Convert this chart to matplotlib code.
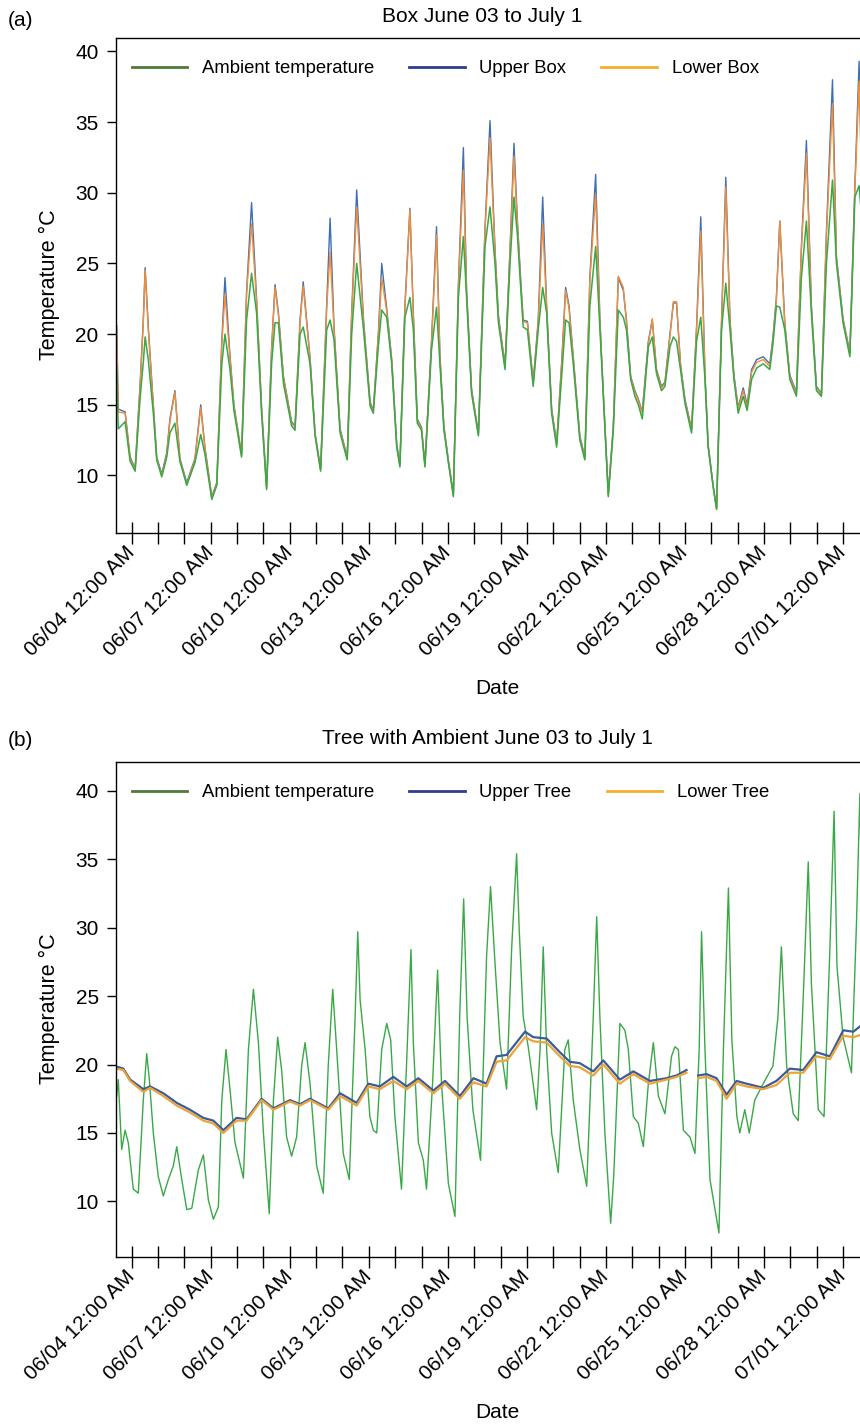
import numpy as np
import pandas as pd
import matplotlib
matplotlib.use('Agg')
import matplotlib.pyplot as plt
from matplotlib.lines import Line2D
import matplotlib.dates as mdates

plt.rcParams['font.family'] = ['Liberation Sans', 'DejaVu Sans']
plt.rcParams['font.size'] = 13

# days after 06/04 12:00 AM
box_days = [-0.57, -0.51, -0.25, -0.06, 0.13, 0.32, 0.44, 0.51, 0.63, 0.82,
            0.95, 1.14, 1.33, 1.45, 1.64, 1.83, 2.09, 2.40, 2.62, 2.78,
            3.04, 3.23, 3.42, 3.54, 3.73, 3.88, 4.17, 4.36, 4.55, 4.74,
            4.93, 5.12, 5.31, 5.44, 5.57, 5.76, 6.07, 6.20, 6.39, 6.51,
            6.77, 6.96, 7.17, 7.40, 7.53, 7.68, 7.91, 8.18, 8.35, 8.54,
            8.80, 9.05, 9.17, 9.36, 9.49, 9.68, 9.87, 10.06, 10.18, 10.37,
            10.56, 10.69, 10.84, 11.00, 11.13, 11.38, 11.57, 11.70, 11.85, 12.02,
            12.21, 12.40, 12.59, 12.71, 12.90, 13.16, 13.41, 13.60, 13.79, 13.92,
            14.17, 14.36, 14.51, 14.64, 14.76, 14.86, 15.02, 15.24, 15.43, 15.60,
            15.75, 15.94, 16.13, 16.32, 16.47, 16.60, 16.76, 17.01, 17.20, 17.39,
            17.61, 17.77, 17.84, 18.09, 18.28, 18.47, 18.66, 18.78, 18.94, 19.10,
            19.23, 19.38, 19.61, 19.76, 19.92, 20.11, 20.24, 20.43, 20.56, 20.68,
            20.83, 21.00, 21.25, 21.44, 21.60, 21.76, 21.88, 22.07, 22.20, 22.39,
            22.55, 22.71, 22.86, 23.02, 23.21, 23.36, 23.53, 23.72, 23.97, 24.22,
            24.34, 24.47, 24.60, 24.79, 24.98, 25.23, 25.42, 25.61, 25.80, 25.99,
            26.18, 26.37, 26.60, 26.75, 27.00, 27.26, 27.45, 27.61, 27.72]

box_ambient = [17.8, 13.3, 13.8, 11.0, 10.3, 15.5, 18.0, 19.8, 18.2, 14.4,
               11.1, 9.9, 11.3, 13.0, 13.7, 11.0, 9.3, 10.9, 12.9, 11.5,
               8.3, 9.3, 17.9, 20.0, 17.5, 14.6, 11.3, 21.0, 24.3, 21.5,
               14.4, 9.0, 17.9, 20.8, 20.8, 16.5, 13.5, 13.2, 20.0, 20.5,
               17.9, 12.8, 10.3, 20.3, 21.0, 19.6, 13.0, 11.1, 20.0, 25.0,
               20.3, 14.9, 14.4, 19.1, 21.7, 21.2, 17.9, 12.0, 10.6, 21.2,
               22.6, 20.3, 13.7, 13.2, 10.6, 18.9, 21.9, 17.9, 13.2, 10.9,
               8.5, 22.6, 26.9, 22.6, 15.8, 12.8, 26.2, 29.0, 25.0, 20.8,
               17.5, 25.0, 29.7, 27.0, 23.5, 20.5, 20.3, 16.3, 20.3, 23.3,
               21.5, 14.4, 12.0, 17.0, 21.0, 20.8, 17.9, 12.5, 11.1, 22.0,
               26.2, 20.5, 17.9, 8.5, 13.2, 21.7, 21.2, 20.3, 16.8, 15.6,
               15.0, 14.0, 19.1, 19.8, 17.2, 16.0, 16.3, 19.1, 19.8, 19.5,
               17.5, 15.1, 13.0, 19.5, 21.2, 16.8, 12.0, 9.2, 7.6, 20.3,
               23.6, 20.3, 16.8, 14.4, 15.6, 14.6, 16.8, 17.6, 17.9, 17.5,
               19.3, 22.0, 21.9, 20.3, 16.8, 15.6, 24.0, 28.0, 21.5, 16.0,
               15.6, 25.0, 30.9, 25.0, 20.8, 18.4, 29.7, 30.5, 28.0]

box_upper = [20.6, 14.7, 14.5, 11.3, 10.5, 16.5, 21.0, 24.7, 20.5, 15.0,
             11.3, 10.1, 11.6, 14.0, 16.0, 11.2, 9.5, 11.2, 15.0, 12.0,
             8.5, 9.5, 19.5, 24.0, 18.5, 15.0, 11.5, 23.0, 29.3, 22.5,
             14.8, 9.2, 19.0, 23.5, 21.5, 17.0, 13.8, 13.5, 21.0, 23.7,
             18.3, 13.0, 10.5, 22.0, 28.2, 20.5, 13.3, 11.3, 21.5, 30.2,
             21.0, 15.2, 14.6, 20.0, 25.0, 21.8, 18.2, 12.2, 10.8, 22.0,
             28.9, 21.5, 14.0, 13.4, 10.8, 19.5, 27.6, 18.5, 13.5, 11.1,
             8.7, 23.5, 33.2, 23.2, 16.1, 13.0, 27.5, 35.1, 26.0, 21.3,
             17.8, 26.0, 33.5, 28.0, 24.0, 21.0, 20.9, 16.6, 21.0, 29.7,
             22.0, 14.7, 12.3, 18.0, 23.3, 22.0, 18.4, 12.8, 11.3, 24.0,
             31.3, 21.2, 18.2, 8.7, 13.5, 24.0, 23.1, 21.0, 17.0, 16.0,
             15.4, 14.5, 19.5, 21.0, 17.5, 16.3, 16.6, 20.0, 22.2, 22.2,
             17.9, 15.4, 13.3, 20.5, 28.3, 17.2, 12.2, 9.3, 7.7, 21.0,
             31.1, 21.0, 17.1, 14.8, 16.2, 15.0, 17.5, 18.2, 18.4, 17.9,
             19.8, 22.6, 28.0, 20.8, 17.1, 15.9, 26.2, 33.7, 22.0, 16.3,
             15.8, 27.3, 38.0, 25.5, 21.1, 18.7, 30.5, 39.3, 30.0]

box_lower = [20.3, 14.5, 14.4, 11.2, 10.4, 16.3, 20.8, 24.5, 20.3, 14.9,
             11.2, 10.0, 11.5, 13.8, 15.9, 11.1, 9.4, 11.1, 14.8, 11.9,
             8.4, 9.4, 19.3, 22.8, 18.3, 14.9, 11.4, 22.8, 27.8, 22.3,
             14.7, 9.1, 18.8, 23.3, 21.3, 16.9, 13.7, 13.4, 20.8, 23.4,
             18.2, 12.9, 10.4, 21.8, 25.8, 20.3, 13.2, 11.2, 21.3, 29.0,
             20.8, 15.1, 14.5, 19.8, 24.0, 21.6, 18.1, 12.1, 10.7, 21.8,
             28.8, 21.3, 13.9, 13.3, 10.7, 19.3, 27.0, 18.3, 13.4, 11.0,
             8.6, 23.3, 31.6, 23.0, 16.0, 12.9, 27.3, 33.9, 25.8, 21.1,
             17.7, 25.8, 32.6, 27.8, 23.8, 20.9, 20.8, 16.5, 20.8, 27.8,
             21.8, 14.6, 12.2, 17.8, 23.1, 21.8, 18.3, 12.7, 11.2, 23.8,
             29.9, 21.0, 18.1, 8.6, 13.4, 24.1, 23.3, 20.8, 16.9, 15.9,
             15.3, 14.4, 19.3, 21.1, 17.4, 16.2, 16.5, 19.8, 22.3, 22.3,
             17.8, 15.3, 13.2, 20.3, 27.3, 17.1, 12.1, 9.2, 7.6, 20.8,
             30.4, 20.8, 17.0, 14.7, 16.0, 14.8, 17.3, 18.0, 18.2, 17.7,
             19.6, 22.4, 28.0, 20.6, 17.0, 15.8, 26.0, 32.8, 21.8, 16.2,
             15.7, 27.0, 36.3, 25.3, 21.0, 18.6, 30.3, 37.9, 29.6]

amb_days = [-0.57, -0.51, -0.38, -0.25, -0.13, 0.06, 0.25, 0.44, 0.57, 0.67,
            0.82, 1.01, 1.20, 1.39, 1.58, 1.71, 1.90, 2.09, 2.28, 2.53,
            2.72, 2.91, 3.10, 3.29, 3.42, 3.58, 3.73, 3.92, 4.24, 4.43,
            4.62, 4.81, 5.00, 5.22, 5.38, 5.54, 5.69, 5.88, 6.07, 6.26,
            6.45, 6.58, 6.77, 7.02, 7.27, 7.46, 7.63, 7.78, 8.03, 8.26,
            8.48, 8.58, 8.67, 8.86, 9.04, 9.17, 9.30, 9.49, 9.68, 9.83,
            9.99, 10.24, 10.43, 10.60, 10.69, 10.88, 11.07, 11.19, 11.42, 11.61,
            11.76, 12.02, 12.27, 12.45, 12.60, 12.73, 12.95, 13.24, 13.47, 13.62,
            13.79, 13.98, 14.23, 14.42, 14.61, 14.71, 14.86, 15.05, 15.37, 15.50,
            15.62, 15.75, 15.94, 16.19, 16.44, 16.57, 16.76, 17.01, 17.27, 17.52,
            17.65, 17.77, 17.96, 18.18, 18.30, 18.53, 18.72, 18.85, 19.04, 19.23,
            19.42, 19.61, 19.80, 19.99, 20.24, 20.49, 20.62, 20.75, 20.94, 21.19,
            21.38, 21.54, 21.63, 21.76, 21.95, 22.14, 22.29, 22.46, 22.65, 22.78,
            22.97, 23.08, 23.27, 23.44, 23.65, 23.97, 24.34, 24.53, 24.66, 24.86,
            25.11, 25.30, 25.51, 25.68, 25.80, 26.06, 26.28, 26.50, 26.66, 26.77,
            27.00, 27.32, 27.51, 27.64, 27.72]

tree_ambient = [17.7, 18.9, 13.8, 15.2, 14.3, 10.9, 10.6, 17.4, 20.8, 18.9,
                15.0, 11.8, 10.4, 11.6, 12.6, 14.0, 11.6, 9.4, 9.5, 12.3,
                13.4, 10.1, 8.7, 9.6, 17.4, 21.1, 18.2, 14.3, 11.7, 21.1,
                25.5, 21.6, 15.0, 9.1, 17.4, 22.0, 19.6, 14.7, 13.3, 14.7,
                19.9, 21.6, 18.6, 12.6, 10.6, 19.9, 25.5, 21.1, 13.5, 11.6,
                23.5, 29.7, 24.7, 21.1, 16.2, 15.2, 15.0, 21.1, 23.0, 21.8,
                16.2, 10.9, 19.9, 28.4, 21.6, 14.3, 13.0, 10.9, 18.6, 26.9,
                18.6, 11.3, 8.9, 23.5, 32.1, 23.5, 16.7, 13.0, 27.9, 33.0,
                27.4, 21.6, 18.2, 28.4, 35.4, 29.8, 23.5, 21.3, 16.7, 21.1,
                28.6, 21.1, 15.0, 12.1, 21.1, 21.8, 17.4, 13.8, 11.1, 23.5,
                30.8, 23.5, 15.0, 8.4, 12.0, 23.0, 22.5, 21.1, 16.2, 15.7,
                14.0, 18.6, 21.6, 17.7, 16.4, 20.6, 21.3, 21.1, 15.2, 14.7,
                13.5, 21.1, 29.7, 21.1, 11.6, 9.4, 7.7, 21.1, 32.9, 21.8,
                16.2, 15.0, 16.7, 15.0, 17.4, 18.6, 19.9, 23.5, 28.6, 19.9,
                16.4, 15.9, 25.9, 34.8, 25.9, 16.7, 16.2, 28.4, 38.5, 27.2,
                22.0, 19.4, 30.3, 39.8, 31.0]

tree_days = [-0.57, -0.32, -0.06, 0.44, 0.70, 1.20, 1.71, 2.21, 2.72, 3.10,
             3.48, 3.98, 4.36, 4.93, 5.38, 6.01, 6.39, 6.77, 7.46, 7.91,
             8.54, 8.98, 9.42, 9.93, 10.44, 10.88, 11.45, 11.89, 12.46, 12.97,
             13.47, 13.85, 14.23, 14.93, 15.24, 15.75, 16.25, 16.63, 17.01, 17.52,
             17.90, 18.53, 19.04, 19.67, 20.30, 20.68, 21.06, 21.28, 21.50, 21.82,
             22.20, 22.58, 22.96, 23.34, 23.97, 24.47, 24.98, 25.49, 25.99, 26.50,
             27.01, 27.39, 27.72]

tree_upper = [19.85, 19.7, 18.9, 18.2, 18.4, 17.9, 17.2, 16.7, 16.1, 15.9,
              15.2, 16.1, 16.0, 17.5, 16.8, 17.4, 17.1, 17.5, 16.8, 17.9,
              17.2, 18.6, 18.4, 19.1, 18.4, 19.0, 18.1, 18.8, 17.7, 19.0,
              18.6, 20.6, 20.7, 22.4, 22.0, 21.9, 20.9, 20.2, 20.1, 19.5,
              20.3, 18.9, 19.5, 18.8, 19.0, 19.2, 19.6, np.nan, 19.2, 19.3,
              19.0, 17.8, 18.8, 18.6, 18.3, 18.8, 19.7, 19.6, 20.9, 20.6,
              22.5, 22.4, 22.9]

tree_lower = [19.7, 19.6, 18.8, 18.0, 18.3, 17.7, 17.0, 16.5, 15.9, 15.7,
              15.0, 15.9, 15.9, 17.4, 16.7, 17.3, 17.0, 17.4, 16.7, 17.7,
              17.0, 18.4, 18.2, 18.8, 18.2, 18.8, 17.9, 18.6, 17.5, 18.7,
              18.4, 20.2, 20.3, 22.0, 21.7, 21.6, 20.6, 19.9, 19.8, 19.2,
              20.0, 18.6, 19.3, 18.6, 18.9, 19.1, 19.4, np.nan, 19.0, 19.1,
              18.8, 17.5, 18.6, 18.4, 18.2, 18.5, 19.4, 19.4, 20.6, 20.4,
              22.1, 22.0, 22.2]

tick_days = [0, 3, 6, 9, 12, 15, 18, 21, 24, 27]

start = pd.Timestamp('2019-06-04 00:00')


def to_time(days):
    return (start + pd.to_timedelta(np.asarray(days, dtype=float), unit='D')).to_numpy()


W, H = 860, 1426
fig = plt.figure(figsize=(W / 100, H / 100), dpi=100)


def px_axes(left, top, right, bottom):
    return fig.add_axes([left / W, 1 - bottom / H, (right - left) / W, (bottom - top) / H])


def style_axis(ax, ylim):
    ax.set_xlim(to_time([-0.596, 27.72]))
    ax.set_ylim(*ylim)
    ax.set_yticks([10, 15, 20, 25, 30, 35, 40])
    ax.xaxis.set_major_locator(plt.FixedLocator(mdates.date2num(to_time(tick_days))))
    ax.xaxis.set_minor_locator(plt.FixedLocator(mdates.date2num(to_time(range(0, 28)))))
    ax.xaxis.set_major_formatter(mdates.DateFormatter('%m/%d %I:%M %p'))
    ax.tick_params(axis='x', which='both', direction='inout', length=16, width=1.0,
                   labelsize=15, pad=4)
    ax.tick_params(axis='y', direction='out', length=6.5, width=1.0, labelsize=15, pad=6)
    for lab in ax.get_xticklabels():
        lab.set_rotation(45)
        lab.set_ha('right')
        lab.set_va('center')
        lab.set_rotation_mode('anchor')
    for s in ax.spines.values():
        s.set_linewidth(1.0)


amb_col = '#3aa847'
up_col = '#3f6fb0'
low_col = '#f08e3a'

# panel (a)
ax1 = px_axes(116, 38, 862, 533)
ax1.plot(to_time(box_days), box_upper, color=up_col, lw=1.0)
ax1.plot(to_time(box_days), box_lower, color=low_col, lw=1.0)
ax1.plot(to_time(box_days), box_ambient, color=amb_col, lw=1.1)
style_axis(ax1, (5.93, 40.95))
handles_a = [Line2D([], [], color='#4e7a3c', lw=2),
             Line2D([], [], color='#2c3e8c', lw=2),
             Line2D([], [], color='#f2b02a', lw=2)]
ax1.legend(handles_a, ['Ambient temperature', 'Upper Box', 'Lower Box'], ncol=3,
           loc='upper left', bbox_to_anchor=(0.021, 0.955), frameon=False,
           handlelength=3.0, handletextpad=0.8, columnspacing=1.9,
           borderpad=0, borderaxespad=0, fontsize=13.3)

# panel (b)
ax2 = px_axes(116, 762, 862, 1257)
ax2.plot(to_time(amb_days), tree_ambient, color=amb_col, lw=1.0)
ax2.plot(to_time(tree_days), tree_upper, color='#3d5a99', lw=1.6)
ax2.plot(to_time(tree_days), tree_lower, color='#eaa43a', lw=1.6)
style_axis(ax2, (5.94, 42.1))
ax2.legend(handles_a, ['Ambient temperature', 'Upper Tree', 'Lower Tree'], ncol=3,
           loc='upper left', bbox_to_anchor=(0.021, 0.955), frameon=False,
           handlelength=3.0, handletextpad=0.8, columnspacing=1.9,
           borderpad=0, borderaxespad=0, fontsize=13.3)

# titles and labels
fig.text(8 / W, 1 - 20 / H, '(a)', ha='left', va='center', fontsize=15)
fig.text(482 / W, 1 - 17 / H, 'Box June 03 to July 1', ha='center', va='center', fontsize=15)
fig.text(8 / W, 1 - 740 / H, '(b)', ha='left', va='center', fontsize=15)
fig.text(487 / W, 1 - 739 / H, 'Tree with Ambient June 03 to July 1', ha='center',
         va='center', fontsize=15)
for yc, yx in [(285, 688), (1009, 1413)]:
    fig.text(49 / W, 1 - yc / H, 'Temperature °C', rotation=90, ha='center',
             va='center', fontsize=15.5)
    fig.text(497 / W, 1 - yx / H, 'Date', ha='center', va='center', fontsize=15)

fig.savefig('out.png', dpi=100)
